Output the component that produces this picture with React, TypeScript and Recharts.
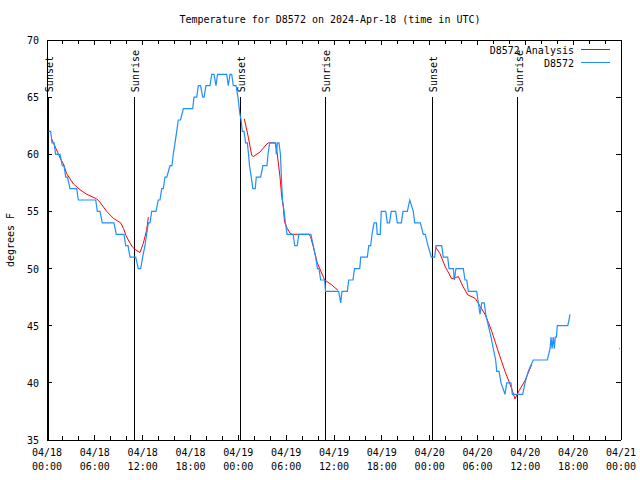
import React from 'react';
import { ComposedChart, Line, XAxis, YAxis, ReferenceLine } from 'recharts';

const FONT = '"DejaVu Sans Mono", "Liberation Mono", monospace';
const BLUE = '#1e8fff';
const RED = '#ff0000';

const TITLE = 'Temperature for D8572 on 2024-Apr-18 (time in UTC)';
const Y_LABEL = 'degrees F';
const SERIES_ANALYSIS = 'D8572 Analysis';
const SERIES_OBS = 'D8572';

// hours since 04/18 00:00 UTC
const xTicks = [0, 2, 4, 6, 8, 10, 12, 14, 16, 18, 20, 22, 24, 26, 28, 30, 32, 34, 36, 38, 40, 42, 44, 46, 48, 50, 52, 54, 56, 58, 60, 62, 64, 66, 68, 70, 72];
const xMajorHours = [0, 6, 12, 18, 24, 30, 36, 42, 48, 54, 60, 66, 72];
const xTickDates = ['04/18', '04/18', '04/18', '04/18', '04/19', '04/19', '04/19', '04/19', '04/20', '04/20', '04/20', '04/20', '04/21'];
const xTickTimes = ['00:00', '06:00', '12:00', '18:00', '00:00', '06:00', '12:00', '18:00', '00:00', '06:00', '12:00', '18:00', '00:00'];
const yTicks = [35, 40, 45, 50, 55, 60, 65, 70];

const sunHours = [0.16, 10.95, 24.21, 34.9, 48.33, 59.04];
const sunLabels = ['Sunset', 'Sunrise', 'Sunset', 'Sunrise', 'Sunset', 'Sunrise'];

// observed temperatures [hour, degF]
const observed: [number, number][] = [
  [0.21, 62], [0.46, 62], [0.63, 61], [0.88, 61], [1.09, 60], [1.63, 60], [1.92, 59], [2.13, 59], [2.35, 58], [2.57, 58],
  [2.89, 57], [3.73, 57], [3.93, 56], [6.11, 56], [6.31, 55], [6.65, 55], [6.94, 54], [8.4, 54], [8.69, 53], [9.66, 53],
  [9.87, 52], [10.16, 52], [10.41, 51], [11.13, 51], [11.45, 50], [11.75, 50], [12.0, 51], [12.29, 52], [12.5, 53], [12.71, 54],
  [12.92, 54], [13.13, 55], [13.67, 55], [13.96, 56], [14.17, 56], [14.39, 57], [14.59, 57], [14.8, 58], [15.02, 58], [15.43, 59],
  [15.68, 59], [15.84, 60], [16.06, 61], [16.27, 62], [16.47, 63], [16.75, 63], [17.1, 64], [18.28, 64], [18.44, 65], [18.78, 65],
  [18.98, 66], [19.26, 66], [19.53, 65], [19.7, 65], [19.94, 66], [20.45, 66], [20.66, 67], [20.95, 67], [21.2, 66], [21.39, 67],
  [22.54, 67], [22.74, 66], [22.96, 67], [23.17, 67], [23.37, 66], [23.71, 66], [23.95, 65], [24.2, 63.5], [24.35, 63], [24.5, 62],
  [24.71, 62], [24.92, 61], [25.13, 61], [25.28, 60], [25.4, 59], [25.62, 58], [25.82, 57], [26.12, 57], [26.25, 58], [26.8, 58],
  [27.08, 59], [27.59, 59], [27.72, 60], [27.93, 61], [28.68, 61], [28.77, 60], [28.9, 61], [29.1, 61], [29.28, 60], [29.4, 58],
  [29.54, 56], [29.74, 55], [29.91, 54], [30.12, 53], [30.87, 53], [31.08, 52], [31.38, 52], [31.59, 53], [33.1, 53], [33.4, 52],
  [33.7, 51], [33.93, 50], [34.12, 50], [34.33, 49], [34.83, 49], [34.93, 48], [36.59, 48], [36.84, 47], [37.0, 48], [37.67, 48],
  [37.85, 49], [38.38, 49], [38.57, 50], [39.23, 50], [39.35, 51], [40.18, 51], [40.36, 52], [40.6, 52], [40.77, 53], [41.02, 54],
  [41.33, 54], [41.42, 53], [41.8, 53], [41.93, 55], [42.49, 55], [42.69, 54], [42.96, 54], [43.18, 55], [43.73, 55], [43.94, 54],
  [44.44, 54], [44.66, 55], [45.2, 55], [45.5, 56], [45.95, 55], [46.12, 54], [46.83, 54], [47.2, 53], [47.45, 53], [47.79, 52],
  [48.21, 51], [48.63, 51], [48.8, 52], [49.51, 52], [49.71, 51], [50.26, 51], [50.43, 50], [50.97, 50], [51.09, 49], [51.3, 50],
  [52.22, 50], [52.43, 49], [52.65, 49], [52.85, 48], [53.9, 48], [54.1, 47], [54.32, 46], [54.53, 47], [54.85, 47], [55.03, 46],
  [55.36, 45], [55.7, 44], [55.98, 43], [56.28, 42], [56.41, 41], [56.7, 41], [56.95, 40], [57.45, 39], [57.67, 40], [58.2, 40],
  [58.37, 39], [59.67, 39], [59.96, 40], [60.37, 41], [60.67, 41.5], [61.0, 42], [62.76, 42], [63.1, 43], [63.22, 44], [63.35, 43],
  [63.5, 44], [63.64, 43], [63.75, 44], [63.9, 44], [64.01, 45], [65.32, 45], [65.48, 45.5], [65.6, 46],
];
const observedStray: [number, number][] = [[71.76, 43], [71.86, 43]];

// analysis temperatures [hour, degF], three separate runs
const analysisRun1: [number, number][] = [
  [0.55, 61.4], [1.13, 60.5], [1.69, 59.6], [2.04, 59.2], [2.47, 58.3], [3.32, 57.4], [4.14, 56.9], [4.98, 56.5], [6.23, 56.1],
  [6.65, 55.8], [7.49, 55.0], [8.32, 54.4], [9.24, 54.0], [9.6, 53.5], [9.9, 52.9], [10.2, 52.5], [10.7, 51.9], [11.0, 51.7],
  [11.65, 51.4], [12.08, 52.2], [12.51, 53.4], [12.71, 54.5],
];
const analysisRun2: [number, number][] = [
  [24.75, 63.1], [25.25, 61.5], [25.68, 59.9], [25.88, 59.8], [26.72, 60.2], [27.56, 60.9], [27.79, 61.0], [28.6, 61.0],
  [28.82, 60.4], [29.23, 58.0], [29.44, 56.3], [29.64, 55.4], [29.79, 54.1], [30.14, 53.5], [30.48, 53.1], [30.77, 53.0],
  [32.87, 53.0], [33.05, 52.8], [33.37, 52.0], [33.9, 50.5], [34.83, 49.0], [35.66, 48.6], [36.5, 48.1],
];
const analysisRun3: [number, number][] = [
  [48.73, 51.9], [49.3, 51.3], [49.93, 50.2], [50.77, 49.1], [51.18, 49.2], [51.6, 49.3], [52.2, 48.4], [52.78, 47.7],
  [53.69, 47.4], [54.07, 47.0], [54.32, 46.7], [54.94, 46.0], [55.36, 45.3], [55.79, 44.5], [56.58, 42.8], [57.45, 41.0],
  [58.29, 39.5], [58.7, 38.6], [59.2, 39.3], [59.96, 40.2], [60.8, 41.6],
];

const toRows = (pts: [number, number][]) => pts.map(([h, v]) => ({ h, v }));

const PLOT_LEFT = 47;
const PLOT_RIGHT = 621;
const PLOT_TOP = 40;
const PLOT_BOTTOM = 440;

const BottomTick = (props: any) => {
  const { x, payload } = props;
  const val = payload.value as number;
  const idx = xMajorHours.indexOf(val);
  const major = idx >= 0;
  return (
    <g>
      <line x1={x} x2={x} y1={PLOT_BOTTOM} y2={PLOT_BOTTOM - (major ? 5 : 4)} stroke="#000" shapeRendering="crispEdges" />
      {major && (
        <text x={x} y={456} textAnchor="middle" fontFamily={FONT} fontSize={10} fill="#000">
          {xTickDates[idx]}
        </text>
      )}
      {major && (
        <text x={x} y={470} textAnchor="middle" fontFamily={FONT} fontSize={10} fill="#000">
          {xTickTimes[idx]}
        </text>
      )}
    </g>
  );
};

const TopTick = (props: any) => {
  const { x, payload } = props;
  const major = xMajorHours.indexOf(payload.value) >= 0;
  return <line x1={x} x2={x} y1={PLOT_TOP} y2={PLOT_TOP + (major ? 5 : 4)} stroke="#000" shapeRendering="crispEdges" />;
};

const LeftTick = (props: any) => {
  const { y, payload } = props;
  return (
    <g>
      <line x1={PLOT_LEFT} x2={PLOT_LEFT + 5} y1={y} y2={y} stroke="#000" shapeRendering="crispEdges" />
      <text x={39} y={y + 4} textAnchor="end" fontFamily={FONT} fontSize={10} fill="#000">
        {payload.value}
      </text>
    </g>
  );
};

const RightTick = (props: any) => {
  const { y } = props;
  return <line x1={PLOT_RIGHT} x2={PLOT_RIGHT - 5} y1={y} y2={y} stroke="#000" shapeRendering="crispEdges" />;
};

const sunLabel = (text: string) => (p: any) => {
  const vb = p.viewBox || {};
  const x = (vb.x ?? 0) + 1.5;
  const y = (vb.y ?? 0) - 5;
  return (
    <text
      x={x}
      y={y}
      transform={`rotate(-90 ${x} ${y})`}
      textAnchor="start"
      dominantBaseline="central"
      fontFamily={FONT}
      fontSize={10}
      fill="#000"
    >
      {text}
    </text>
  );
};

export default function App() {
  return (
    <div style={{ position: 'absolute', left: 0, top: 0, width: 640, height: 480, background: '#fff' }}>
      <ComposedChart width={640} height={480} margin={{ top: 0, right: 0, bottom: 0, left: 0 }}>
        <XAxis
          xAxisId="bottom"
          dataKey="h"
          type="number"
          domain={[0, 72]}
          ticks={xTicks}
          interval={0}
          height={40}
          axisLine={{ stroke: '#000', shapeRendering: 'crispEdges' }}
          tickLine={false}
          tick={<BottomTick />}
          allowDataOverflow
        />
        <XAxis
          xAxisId="top"
          orientation="top"
          dataKey="h"
          type="number"
          domain={[0, 72]}
          ticks={xTicks}
          interval={0}
          height={40}
          axisLine={{ stroke: '#000', shapeRendering: 'crispEdges' }}
          tickLine={false}
          tick={<TopTick />}
          allowDataOverflow
        />
        <YAxis
          yAxisId="left"
          type="number"
          domain={[35, 70]}
          ticks={yTicks}
          interval={0}
          width={47}
          axisLine={{ stroke: '#000', shapeRendering: 'crispEdges' }}
          tickLine={false}
          tick={<LeftTick />}
          allowDataOverflow
        />
        <YAxis
          yAxisId="right"
          orientation="right"
          type="number"
          domain={[35, 70]}
          ticks={yTicks}
          interval={0}
          width={19}
          axisLine={{ stroke: '#000', shapeRendering: 'crispEdges' }}
          tickLine={false}
          tick={<RightTick />}
          allowDataOverflow
        />
        {sunHours.map((h, i) => (
          <ReferenceLine
            key={`sun-${i}`}
            xAxisId="bottom"
            yAxisId="left"
            segment={[{ x: h, y: 35 }, { x: h, y: 65 }]}
            stroke="#000"
            strokeWidth={1}
            shapeRendering="crispEdges"
            label={sunLabel(sunLabels[i])}
          />
        ))}
        <Line data={toRows(analysisRun1)} dataKey="v" xAxisId="bottom" yAxisId="left" stroke={RED} strokeWidth={1} dot={false} activeDot={false} isAnimationActive={false} type="linear" />
        <Line data={toRows(analysisRun2)} dataKey="v" xAxisId="bottom" yAxisId="left" stroke={RED} strokeWidth={1} dot={false} activeDot={false} isAnimationActive={false} type="linear" />
        <Line data={toRows(analysisRun3)} dataKey="v" xAxisId="bottom" yAxisId="left" stroke={RED} strokeWidth={1} dot={false} activeDot={false} isAnimationActive={false} type="linear" />
        <Line data={toRows(observed)} dataKey="v" xAxisId="bottom" yAxisId="left" stroke={BLUE} strokeWidth={1.2} dot={false} activeDot={false} isAnimationActive={false} type="linear" />
        <Line data={toRows(observedStray)} dataKey="v" xAxisId="bottom" yAxisId="left" stroke={BLUE} strokeWidth={1.5} dot={false} activeDot={false} isAnimationActive={false} type="linear" />
      </ComposedChart>
      <svg width={640} height={480} style={{ position: 'absolute', left: 0, top: 0, pointerEvents: 'none' }}>
        <text x={330} y={23} textAnchor="middle" fontFamily={FONT} fontSize={10} fill="#000">
          {TITLE}
        </text>
        <text x={14} y={240} transform="rotate(-90 14 240)" textAnchor="middle" fontFamily={FONT} fontSize={10} fill="#000">
          {Y_LABEL}
        </text>
        <text x={574} y={53.5} textAnchor="end" fontFamily={FONT} fontSize={10} fill="#000">
          {SERIES_ANALYSIS}
        </text>
        <line x1={581} x2={610} y1={49.5} y2={49.5} stroke={RED} strokeWidth={1} shapeRendering="crispEdges" />
        <text x={574} y={66.5} textAnchor="end" fontFamily={FONT} fontSize={10} fill="#000">
          {SERIES_OBS}
        </text>
        <line x1={581} x2={610} y1={62.5} y2={62.5} stroke={BLUE} strokeWidth={1} shapeRendering="crispEdges" />
      </svg>
    </div>
  );
}
